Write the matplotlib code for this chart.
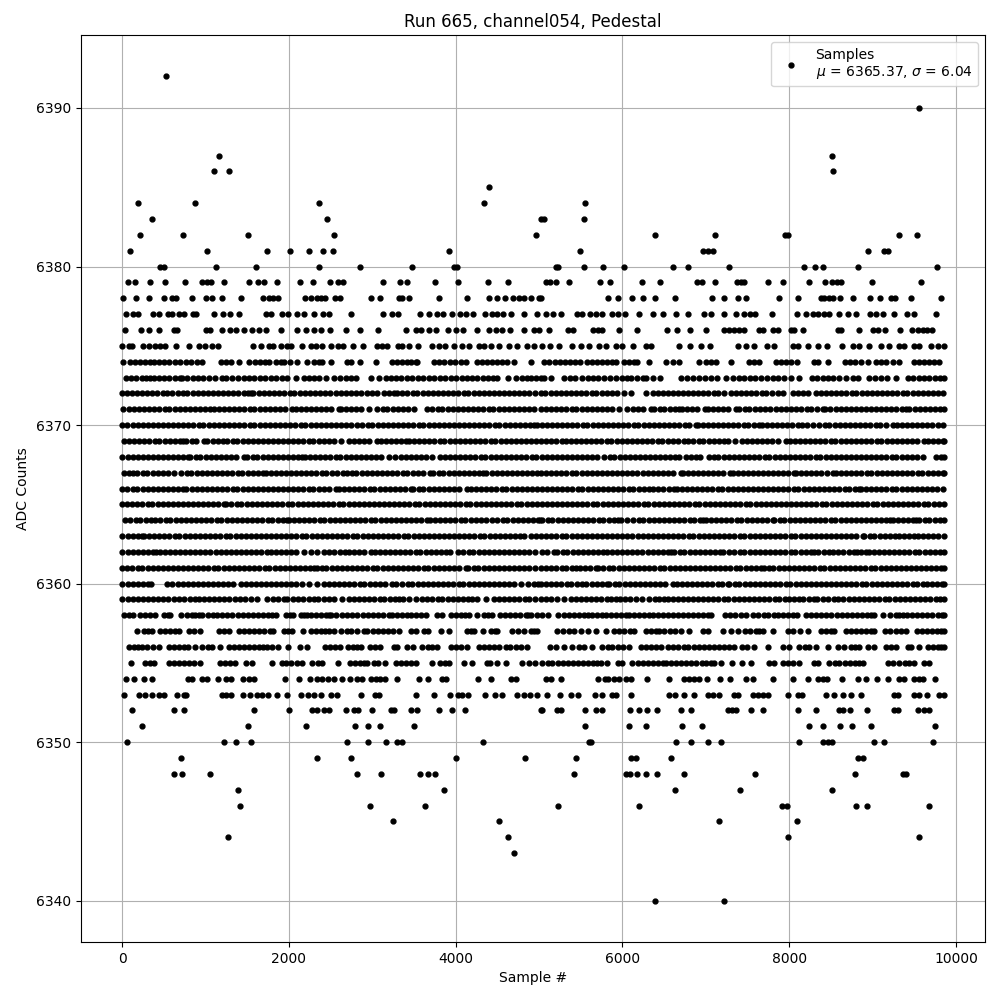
#!/usr/bin/env python3
"""Pedestal samples for one channel, sample number against ADC counts."""

import matplotlib

matplotlib.use("Agg")
import matplotlib.pyplot as plt

# sample numbers per ADC level
s6392 = [524]
s6390 = [9560]
s6387 = [1160, 8516]
s6386 = [1100, 1280, 8528]
s6385 = [4400]
s6384 = [188, 872, 2360, 4340, 5552]
s6383 = [356, 2456, 5020, 5060, 5540]
s6382 = [212, 728, 1508, 2540, 4964, 6392, 7112, 7952, 7988, 9320, 9536]
s6381 = [92, 1016, 1736, 2012, 2240, 2408, 2528, 3920, 5492, 6968, 7028, 7080, 8948, 9140, 9180]
s6380 = [452, 500, 1124, 1604, 2360, 2852, 3476, 3980, 4020, 5200, 5228, 5540, 5768, 6020, 6608,
         6788, 7280, 8180, 8312, 8400, 8828, 9776]
s6379 = [68, 160, 340, 512, 752, 956, 1020, 1068, 1220, 1520, 1628, 1700, 1856, 2132, 2288, 2492,
         2588, 2648, 3128, 3332, 3416, 3752, 4028, 4388, 4628, 5080, 5132, 5204, 5360, 5732, 5852,
         6236, 6452, 6896, 6956, 7112, 7376, 7420, 7460, 7748, 7928, 8240, 8432, 8516, 8576, 8620,
         8996, 9584]
s6378 = [8, 168, 320, 500, 600, 652, 840, 1008, 1076, 1196, 1424, 1688, 1760, 1808, 1868, 2192,
         2260, 2340, 2380, 2428, 2552, 2612, 2984, 3092, 3320, 3360, 3440, 3800, 4136, 4400, 4500,
         4592, 4688, 4760, 4820, 4904, 5000, 5020, 5828, 5948, 6116, 6244, 6392, 6632, 7076, 7220,
         7388, 7484, 7880, 8108, 8380, 8420, 8480, 8520, 8612, 8764, 8964, 9092, 9220, 9272, 9464,
         9824]
s6377 = [52, 128, 188, 368, 440, 548, 600, 680, 748, 848, 892, 1100, 1208, 1292, 1400, 1724, 1788,
         1920, 1988, 2092, 2180, 2300, 2412, 2480, 2744, 3128, 3240, 3312, 3572, 3680, 3772, 3848,
         3956, 4052, 4124, 4204, 4352, 4440, 4500, 4568, 4668, 4820, 4980, 5080, 5172, 5260, 5460,
         5520, 5612, 5680, 5760, 5880, 5948, 6032, 6200, 6360, 6488, 6644, 6788, 6980, 7060, 7220,
         7364, 7460, 7532, 7592, 7796, 8096, 8204, 8280, 8348, 8420, 8480, 8600, 8700, 8800, 8972,
         9044, 9128, 9260, 9416, 9500, 9764]
s6376 = [32, 228, 320, 440, 620, 660, 1008, 1060, 1196, 1292, 1360, 1460, 1560, 1640, 1720, 1904,
         2100, 2208, 2300, 2380, 2492, 2680, 2852, 3068, 3404, 3520, 3580, 3680, 3760, 3908, 4004,
         4088, 4260, 4400, 4480, 4552, 4652, 4820, 4940, 5000, 5120, 5348, 5404, 5648, 5708, 5760,
         5960, 6176, 6536, 6656, 6812, 7004, 7220, 7280, 7340, 7400, 7460, 7640, 7688, 7808, 7860,
         8020, 8060, 8164, 8580, 8620, 8836, 9008, 9068, 9152, 9332, 9468, 9540, 9600, 9652, 9708]
s6375 = [0, 80, 120, 252, 320, 400, 460, 520, 648, 804, 920, 1000, 1080, 1148, 1564, 1660, 1760,
         1812, 1904, 1980, 2028, 2160, 2260, 2320, 2400, 2500, 2588, 2648, 2768, 2888, 3056, 3120,
         3180, 3312, 3360, 3440, 3544, 3720, 3800, 3868, 3980, 4080, 4160, 4280, 4340, 4420, 4520,
         4644, 4740, 4860, 4940, 5040, 5132, 5240, 5400, 5500, 5600, 5720, 5800, 5920, 6000, 6132,
         6276, 6344, 6680, 6804, 6940, 7052, 7380, 7480, 7580, 7732, 7820, 8040, 8100, 8228, 8340,
         8452, 8628, 8760, 8840, 8960, 9100, 9200, 9320, 9380, 9500, 9560, 9700, 9780, 9854]
s6374 = [12, 100, 160, 220, 280, 340, 380, 440, 500, 560, 640, 700, 770, 830, 900, 960, 1180, 1240,
         1308, 1400, 1520, 1590, 1650, 1710, 1760, 1840, 1900, 1940, 2012, 2100, 2220, 2300, 2360,
         2400, 2500, 2692, 2748, 2852, 3044, 3240, 3300, 3360, 3420, 3460, 3520, 3540, 3740, 3800,
         3860, 3930, 3990, 4060, 4120, 4260, 4320, 4380, 4440, 4500, 4560, 4620, 4700, 4900, 5060,
         5120, 5190, 5250, 5310, 5370, 5430, 5492, 5580, 5640, 5700, 5760, 5820, 5880, 5920, 6020,
         6080, 6140, 6180, 6320, 6520, 6600, 6672, 6920, 7000, 7060, 7124, 7300, 7520, 7580, 7640,
         7840, 7900, 7960, 8020, 8088, 8300, 8348, 8468, 8668, 8730, 8790, 8860, 8948, 9040, 9100,
         9160, 9240, 9320, 9500, 9560, 9620, 9680, 9740, 9800]
s6373 = [52, 110, 170, 235, 290, 340, 380, 440, 500, 565, 630, 692, 720, 780, 850, 910, 975, 1040,
         1120, 1200, 1240, 1320, 1390, 1460, 1520, 1585, 1650, 1710, 1780, 1850, 1920, 1980, 2080,
         2180, 2240, 2300, 2360, 2440, 2540, 2610, 2680, 2740, 2800, 2980, 3080, 3160, 3225, 3290,
         3350, 3420, 3480, 3550, 3610, 3680, 3745, 3810, 3870, 3940, 4000, 4070, 4130, 4200, 4260,
         4330, 4390, 4450, 4500, 4628, 4720, 4790, 4860, 4900, 4960, 5020, 5060, 5140, 5300, 5370,
         5432, 5520, 5585, 5650, 5710, 5780, 5850, 5920, 5990, 6060, 6100, 6170, 6240, 6280, 6370,
         6452, 6700, 6770, 6840, 6920, 6990, 7060, 7132, 7240, 7320, 7400, 7460, 7530, 7590, 7660,
         7730, 7800, 7860, 7940, 8020, 8112, 8268, 8330, 8400, 8460, 8530, 8600, 8680, 8760, 8828,
         8960, 9030, 9100, 9170, 9280, 9420, 9480, 9550, 9610, 9680, 9750, 9810, 9854]
s6372 = [0, 55, 120, 175, 240, 300, 360, 420, 485, 540, 600, 665, 725, 780, 845, 905, 970, 1025,
         1090, 1150, 1210, 1275, 1330, 1395, 1460, 1510, 1540, 1572, 1640, 1700, 1765, 1820, 1885,
         1945, 2010, 2065, 2130, 2190, 2250, 2315, 2370, 2435, 2495, 2560, 2620, 2680, 2745, 2800,
         2870, 2940, 3000, 3060, 3140, 3195, 3255, 3300, 3360, 3420, 3485, 3540, 3605, 3665, 3725,
         3790, 3845, 3910, 3970, 4030, 4095, 4150, 4215, 4275, 4335, 4400, 4455, 4520, 4580, 4640,
         4705, 4760, 4825, 4885, 4945, 5020, 5075, 5140, 5200, 5260, 5325, 5380, 5445, 5505, 5565,
         5630, 5685, 5750, 5810, 5870, 5935, 6020, 6100, 6280, 6360, 6420, 6485, 6540, 6605, 6665,
         6725, 6790, 6845, 6910, 6970, 7030, 7095, 7150, 7212, 7300, 7365, 7420, 7485, 7545, 7605,
         7670, 7725, 7790, 7860, 7928, 8040, 8105, 8165, 8225, 8320, 8380, 8445, 8500, 8565, 8625,
         8685, 8750, 8805, 8870, 8930, 8990, 9055, 9110, 9175, 9235, 9295, 9360, 9415, 9480, 9540,
         9600, 9665, 9720, 9785, 9845]
s6371 = [12, 80, 140, 205, 260, 325, 385, 445, 510, 565, 630, 690, 750, 815, 870, 935, 1000, 1060,
         1100, 1160, 1225, 1280, 1345, 1405, 1465, 1530, 1585, 1650, 1710, 1770, 1835, 1890, 1955,
         2040, 2080, 2140, 2205, 2260, 2325, 2385, 2445, 2510, 2600, 2620, 2685, 2740, 2805, 2865,
         2960, 3060, 3125, 3180, 3245, 3305, 3365, 3430, 3500, 3660, 3720, 3785, 3840, 3905, 3965,
         4025, 4090, 4145, 4210, 4270, 4330, 4395, 4450, 4515, 4575, 4635, 4700, 4755, 4820, 4880,
         4940, 5020, 5085, 5140, 5205, 5265, 5325, 5390, 5445, 5510, 5570, 5630, 5695, 5750, 5815,
         5875, 5960, 6060, 6125, 6185, 6240, 6340, 6380, 6445, 6500, 6565, 6625, 6680, 6708, 6770,
         6835, 6895, 6988, 7020, 7085, 7140, 7205, 7265, 7360, 7400, 7465, 7520, 7585, 7645, 7705,
         7772, 7840, 7905, 7960, 8025, 8085, 8145, 8210, 8265, 8330, 8400, 8428, 8490, 8555, 8615,
         8675, 8740, 8795, 8860, 8920, 8980, 9045, 9100, 9165, 9225, 9285, 9350, 9400, 9440, 9505,
         9565, 9625, 9690, 9745, 9810, 9854]
s6370 = [0, 60, 125, 185, 245, 310, 365, 430, 490, 550, 615, 670, 735, 795, 855, 920, 975, 1040,
         1100, 1160, 1225, 1280, 1345, 1405, 1465, 1530, 1585, 1650, 1710, 1770, 1835, 1890, 1955,
         2015, 2075, 2140, 2195, 2260, 2320, 2380, 2445, 2500, 2565, 2625, 2685, 2750, 2820, 2880,
         2945, 3000, 3065, 3125, 3185, 3250, 3305, 3370, 3430, 3490, 3555, 3610, 3675, 3735, 3795,
         3860, 3915, 3980, 4040, 4100, 4165, 4220, 4285, 4345, 4405, 4470, 4525, 4590, 4650, 4710,
         4775, 4830, 4895, 4940, 4972, 5035, 5095, 5155, 5220, 5275, 5340, 5400, 5460, 5525, 5580,
         5645, 5705, 5765, 5830, 5885, 5950, 6010, 6070, 6135, 6190, 6255, 6315, 6375, 6440, 6495,
         6560, 6620, 6680, 6745, 6800, 6880, 6900, 6965, 7025, 7085, 7150, 7205, 7270, 7330, 7390,
         7455, 7510, 7575, 7640, 7668, 7730, 7795, 7850, 7915, 7975, 8035, 8100, 8155, 8212, 8280,
         8360, 8425, 8480, 8545, 8605, 8665, 8730, 8785, 8850, 8910, 8970, 9035, 9090, 9155, 9240,
         9288, 9348, 9410, 9475, 9530, 9595, 9655, 9715, 9780, 9845]
s6369 = [20, 85, 140, 205, 265, 325, 390, 445, 510, 570, 630, 695, 732, 772, 835, 890, 980, 1020,
         1085, 1150, 1212, 1260, 1325, 1380, 1445, 1505, 1565, 1630, 1685, 1750, 1810, 1870, 1935,
         1990, 2055, 2115, 2175, 2240, 2295, 2360, 2420, 2480, 2540, 2628, 2720, 2785, 2840, 2905,
         2965, 3060, 3100, 3165, 3220, 3285, 3345, 3400, 3440, 3505, 3560, 3625, 3685, 3745, 3810,
         3865, 3930, 3990, 4050, 4115, 4170, 4235, 4295, 4355, 4420, 4475, 4540, 4600, 4660, 4725,
         4780, 4845, 4905, 4965, 5020, 5085, 5145, 5205, 5270, 5325, 5388, 5440, 5505, 5560, 5625,
         5685, 5745, 5810, 5865, 5930, 5990, 6050, 6115, 6170, 6235, 6295, 6355, 6420, 6475, 6540,
         6600, 6660, 6740, 6788, 6850, 6915, 6970, 7035, 7095, 7155, 7220, 7260, 7348, 7428, 7490,
         7555, 7610, 7675, 7735, 7795, 7860, 7960, 8004, 8065, 8125, 8190, 8245, 8310, 8370, 8430,
         8495, 8550, 8615, 8675, 8740, 8800, 8865, 8925, 8985, 9050, 9105, 9170, 9230, 9290, 9355,
         9410, 9475, 9535, 9620, 9660, 9725, 9780, 9845, 9854]
s6368 = [0, 65, 125, 185, 250, 305, 370, 430, 490, 555, 610, 675, 735, 788, 820, 885, 940, 1005,
         1065, 1125, 1190, 1245, 1310, 1370, 1460, 1500, 1565, 1620, 1685, 1745, 1805, 1870, 1925,
         1990, 2050, 2110, 2160, 2190, 2255, 2310, 2375, 2435, 2495, 2560, 2615, 2680, 2740, 2800,
         2865, 2920, 2985, 3045, 3105, 3200, 3276, 3340, 3405, 3460, 3525, 3585, 3645, 3710, 3812,
         3872, 3932, 3995, 4050, 4115, 4175, 4235, 4300, 4355, 4420, 4480, 4540, 4605, 4660, 4725,
         4785, 4845, 4910, 4965, 5030, 5090, 5150, 5215, 5270, 5335, 5395, 5455, 5520, 5575, 5640,
         5692, 5780, 5845, 5900, 5965, 6025, 6085, 6150, 6205, 6270, 6330, 6390, 6455, 6510, 6575,
         6635, 6680, 6760, 6825, 6880, 6928, 7032, 7095, 7150, 7215, 7275, 7335, 7400, 7455, 7520,
         7580, 7640, 7705, 7760, 7825, 7885, 7945, 8010, 8065, 8130, 8190, 8250, 8315, 8370, 8435,
         8495, 8555, 8620, 8675, 8740, 8800, 8860, 8925, 8980, 9045, 9105, 9165, 9230, 9285, 9350,
         9410, 9470, 9535, 9600, 9760, 9825, 9854]
s6367 = [28, 85, 128, 180, 245, 300, 365, 425, 485, 550, 620, 712, 775, 830, 895, 955, 1015, 1080,
         1135, 1200, 1260, 1320, 1385, 1440, 1505, 1565, 1625, 1692, 1720, 1785, 1840, 1905, 1965,
         2025, 2090, 2145, 2210, 2270, 2330, 2395, 2450, 2515, 2575, 2652, 2692, 2755, 2810, 2875,
         2935, 2995, 3060, 3115, 3180, 3240, 3300, 3365, 3420, 3485, 3545, 3605, 3692, 3732, 3795,
         3850, 3915, 3975, 4035, 4100, 4155, 4220, 4280, 4332, 4368, 4430, 4495, 4550, 4615, 4675,
         4735, 4800, 4855, 4920, 4980, 5020, 5085, 5140, 5205, 5265, 5325, 5390, 5445, 5510, 5570,
         5630, 5695, 5750, 5815, 5875, 5935, 6000, 6055, 6120, 6180, 6240, 6305, 6360, 6425, 6485,
         6545, 6610, 6700, 6720, 6785, 6840, 6905, 6965, 7025, 7090, 7145, 7210, 7292, 7320, 7385,
         7440, 7505, 7565, 7625, 7690, 7745, 7810, 7870, 7930, 7990, 8052, 8080, 8145, 8200, 8265,
         8325, 8385, 8450, 8520, 8560, 8625, 8680, 8745, 8805, 8865, 8930, 8985, 9050, 9110, 9170,
         9235, 9290, 9355, 9415, 9475, 9540, 9595, 9660, 9720, 9780, 9845, 9854]
s6366 = [0, 60, 125, 180, 245, 305, 365, 430, 485, 550, 610, 670, 732, 772, 835, 895, 955, 1020,
         1075, 1140, 1200, 1260, 1325, 1380, 1445, 1505, 1565, 1630, 1685, 1750, 1810, 1870, 1935,
         1990, 2055, 2115, 2175, 2240, 2295, 2360, 2420, 2480, 2560, 2600, 2665, 2720, 2785, 2845,
         2905, 2970, 3025, 3090, 3150, 3210, 3275, 3330, 3395, 3460, 3492, 3555, 3610, 3675, 3735,
         3795, 3860, 3915, 3980, 4040, 4140, 4180, 4245, 4300, 4365, 4425, 4485, 4550, 4605, 4670,
         4730, 4790, 4855, 4910, 4975, 5035, 5095, 5160, 5215, 5280, 5340, 5400, 5465, 5520, 5585,
         5645, 5705, 5770, 5825, 5890, 5950, 6010, 6075, 6130, 6195, 6255, 6320, 6360, 6425, 6480,
         6560, 6620, 6648, 6710, 6770, 6835, 6890, 6955, 7015, 7075, 7140, 7195, 7260, 7320, 7380,
         7445, 7500, 7565, 7625, 7685, 7750, 7805, 7870, 7930, 7990, 8055, 8110, 8175, 8235, 8295,
         8360, 8415, 8480, 8540, 8600, 8665, 8720, 8785, 8832, 8860, 8925, 8980, 9045, 9105, 9165,
         9230, 9285, 9350, 9410, 9470, 9535, 9590, 9655, 9715, 9775, 9840]
s6365 = [0, 55, 120, 180, 240, 305, 360, 425, 485, 545, 610, 665, 730, 790, 850, 915, 970, 1035,
         1095, 1155, 1220, 1250, 1310, 1375, 1430, 1495, 1555, 1615, 1680, 1735, 1800, 1860, 1920,
         1985, 2040, 2105, 2165, 2225, 2290, 2345, 2410, 2470, 2530, 2595, 2650, 2715, 2775, 2835,
         2900, 2955, 3020, 3080, 3140, 3205, 3260, 3325, 3385, 3445, 3510, 3565, 3630, 3690, 3750,
         3815, 3870, 3935, 3995, 4055, 4120, 4175, 4240, 4300, 4360, 4425, 4480, 4545, 4605, 4665,
         4730, 4785, 4850, 4910, 4970, 5035, 5090, 5155, 5215, 5275, 5340, 5395, 5460, 5520, 5580,
         5645, 5700, 5765, 5825, 5885, 5950, 6005, 6070, 6130, 6190, 6255, 6310, 6375, 6435, 6495,
         6560, 6615, 6680, 6740, 6800, 6865, 6920, 6985, 7045, 7105, 7170, 7225, 7290, 7350, 7410,
         7475, 7530, 7595, 7655, 7715, 7780, 7835, 7900, 7960, 8020, 8085, 8140, 8205, 8265, 8325,
         8390, 8445, 8510, 8570, 8630, 8695, 8750, 8815, 8875, 8935, 9000, 9055, 9120, 9180, 9240,
         9305, 9360, 9425, 9485, 9545, 9610, 9665, 9730, 9790, 9850]
s6364 = [40, 100, 165, 220, 285, 345, 400, 460, 525, 580, 645, 705, 765, 830, 885, 950, 1010, 1070,
         1135, 1190, 1255, 1315, 1375, 1440, 1495, 1560, 1620, 1680, 1745, 1800, 1865, 1925, 1972,
         2000, 2065, 2120, 2185, 2245, 2305, 2370, 2425, 2490, 2550, 2610, 2675, 2730, 2795, 2855,
         2915, 2980, 3035, 3100, 3160, 3220, 3285, 3340, 3405, 3465, 3525, 3590, 3660, 3692, 3755,
         3810, 3875, 3935, 3995, 4060, 4115, 4180, 4240, 4300, 4365, 4440, 4500, 4565, 4620, 4685,
         4745, 4805, 4870, 4925, 4990, 5012, 5040, 5105, 5160, 5225, 5285, 5345, 5410, 5465, 5530,
         5590, 5650, 5715, 5770, 5835, 5895, 5948, 5980, 6060, 6132, 6195, 6250, 6315, 6375, 6435,
         6500, 6555, 6620, 6680, 6740, 6805, 6860, 6925, 6960, 7000, 7065, 7120, 7185, 7245, 7305,
         7370, 7425, 7490, 7550, 7610, 7675, 7730, 7800, 7820, 7885, 7940, 8005, 8065, 8125, 8190,
         8245, 8310, 8370, 8430, 8495, 8550, 8615, 8675, 8735, 8800, 8855, 8920, 8980, 9040, 9105,
         9160, 9212, 9240, 9305, 9360, 9425, 9485, 9520, 9560, 9625, 9680, 9745, 9805, 9850]
s6363 = [0, 65, 125, 185, 240, 260, 325, 380, 445, 505, 565, 630, 685, 750, 810, 870, 935, 990,
         1055, 1115, 1175, 1240, 1295, 1360, 1420, 1480, 1545, 1600, 1665, 1725, 1785, 1850, 1905,
         1970, 2030, 2090, 2155, 2210, 2275, 2335, 2395, 2460, 2515, 2580, 2640, 2700, 2765, 2820,
         2885, 2945, 3005, 3070, 3125, 3190, 3250, 3310, 3375, 3430, 3495, 3555, 3615, 3680, 3735,
         3800, 3860, 3920, 3985, 4040, 4105, 4165, 4225, 4290, 4345, 4410, 4470, 4530, 4595, 4650,
         4715, 4775, 4820, 4900, 4965, 5020, 5085, 5145, 5205, 5270, 5325, 5390, 5450, 5510, 5575,
         5630, 5695, 5755, 5815, 5880, 5935, 6000, 6060, 6120, 6185, 6240, 6305, 6365, 6425, 6490,
         6545, 6610, 6670, 6730, 6795, 6850, 6915, 6975, 7035, 7100, 7155, 7220, 7280, 7340, 7405,
         7460, 7525, 7585, 7645, 7710, 7765, 7830, 7890, 7950, 8015, 8070, 8135, 8195, 8255, 8320,
         8375, 8440, 8500, 8560, 8625, 8680, 8745, 8805, 8880, 8900, 8965, 9020, 9085, 9145, 9205,
         9270, 9320, 9372, 9440, 9500, 9540, 9605, 9660, 9725, 9785, 9854]
s6362 = [0, 65, 125, 185, 250, 305, 370, 412, 452, 515, 570, 635, 695, 755, 820, 875, 940, 1000,
         1060, 1125, 1180, 1245, 1305, 1365, 1430, 1485, 1550, 1610, 1670, 1735, 1780, 1840, 1908,
         1970, 2025, 2090, 2180, 2260, 2340, 2420, 2485, 2545, 2610, 2668, 2720, 2785, 2845, 2905,
         2988, 3028, 3090, 3150, 3215, 3270, 3335, 3395, 3455, 3520, 3575, 3640, 3700, 3760, 3825,
         3880, 3932, 4028, 4090, 4155, 4210, 4275, 4335, 4395, 4460, 4515, 4580, 4640, 4700, 4765,
         4820, 4885, 4945, 5040, 5100, 5180, 5220, 5285, 5340, 5405, 5465, 5525, 5590, 5645, 5710,
         5770, 5820, 5880, 5932, 5995, 6055, 6115, 6180, 6235, 6300, 6360, 6420, 6485, 6540, 6580,
         6620, 6685, 6740, 6805, 6865, 6925, 6990, 7045, 7110, 7170, 7200, 7280, 7340, 7405, 7460,
         7525, 7585, 7645, 7710, 7765, 7830, 7890, 7950, 8015, 8070, 8135, 8195, 8255, 8292, 8348,
         8415, 8480, 8528, 8590, 8650, 8715, 8770, 8812, 8860, 8925, 8960, 9012, 9075, 9135, 9200,
         9255, 9320, 9380, 9440, 9505, 9560, 9625, 9685, 9745, 9810, 9854]
s6361 = [0, 60, 120, 185, 240, 305, 365, 425, 490, 545, 610, 670, 730, 795, 850, 915, 975, 1035,
         1100, 1155, 1220, 1280, 1340, 1405, 1460, 1525, 1585, 1645, 1710, 1765, 1830, 1890, 1950,
         2015, 2070, 2135, 2195, 2255, 2300, 2332, 2395, 2450, 2515, 2575, 2635, 2700, 2755, 2820,
         2880, 2940, 3005, 3060, 3125, 3185, 3245, 3310, 3365, 3430, 3490, 3550, 3615, 3670, 3735,
         3795, 3855, 3920, 3975, 4040, 4120, 4152, 4215, 4270, 4335, 4395, 4455, 4520, 4575, 4640,
         4700, 4760, 4825, 4880, 4945, 5020, 5085, 5145, 5205, 5270, 5325, 5390, 5440, 5488, 5550,
         5615, 5680, 5708, 5770, 5835, 5890, 5955, 6015, 6075, 6140, 6195, 6260, 6320, 6380, 6445,
         6500, 6565, 6625, 6685, 6750, 6805, 6870, 6930, 6990, 7055, 7110, 7175, 7235, 7295, 7360,
         7415, 7480, 7540, 7600, 7660, 7692, 7755, 7810, 7875, 7935, 7995, 8060, 8115, 8180, 8240,
         8300, 8365, 8420, 8485, 8545, 8605, 8670, 8725, 8790, 8850, 8910, 8975, 9030, 9095, 9155,
         9215, 9280, 9335, 9400, 9460, 9520, 9585, 9640, 9705, 9765, 9825, 9854]
s6360 = [0, 65, 125, 185, 250, 305, 348, 540, 600, 665, 725, 785, 850, 905, 970, 1030, 1090, 1155,
         1210, 1275, 1328, 1420, 1480, 1545, 1600, 1665, 1725, 1785, 1850, 1905, 1970, 2030, 2090,
         2155, 2240, 2332, 2420, 2480, 2545, 2600, 2665, 2725, 2785, 2850, 2905, 2970, 3030, 3090,
         3155, 3240, 3280, 3360, 3425, 3480, 3545, 3605, 3665, 3730, 3785, 3850, 3910, 3970, 4035,
         4090, 4155, 4215, 4275, 4340, 4395, 4460, 4520, 4580, 4645, 4700, 4780, 4872, 4935, 4990,
         5020, 5080, 5145, 5205, 5265, 5330, 5385, 5450, 5510, 5560, 5636, 5700, 5760, 5812, 5840,
         5905, 5960, 6025, 6085, 6145, 6210, 6265, 6330, 6390, 6450, 6515, 6600, 6648, 6710, 6770,
         6835, 6890, 6955, 7015, 7075, 7140, 7195, 7260, 7280, 7345, 7400, 7465, 7525, 7585, 7650,
         7705, 7770, 7830, 7890, 7955, 8010, 8075, 8135, 8195, 8260, 8315, 8380, 8440, 8500, 8565,
         8620, 8685, 8745, 8805, 8870, 8925, 8990, 9050, 9110, 9175, 9230, 9295, 9355, 9415, 9480,
         9535, 9600, 9648, 9710, 9770, 9830, 9854]
s6359 = [0, 65, 125, 185, 250, 305, 370, 428, 492, 555, 620, 680, 748, 810, 870, 920, 980, 1045,
         1100, 1165, 1225, 1285, 1352, 1412, 1475, 1540, 1620, 1740, 1812, 1875, 1940, 1980, 2052,
         2115, 2175, 2240, 2300, 2352, 2415, 2475, 2540, 2640, 2720, 2785, 2840, 2905, 2965, 3025,
         3090, 3145, 3210, 3270, 3320, 3372, 3440, 3520, 3600, 3660, 3720, 3785, 3840, 3905, 3965,
         4025, 4090, 4145, 4200, 4260, 4368, 4460, 4525, 4580, 4645, 4705, 4765, 4830, 4885, 4950,
         5020, 5085, 5145, 5210, 5300, 5380, 5440, 5505, 5560, 5625, 5685, 5745, 5810, 5865, 5920,
         5972, 6035, 6095, 6160, 6228, 6320, 6385, 6440, 6500, 6540, 6605, 6660, 6725, 6785, 6845,
         6910, 6965, 7030, 7090, 7150, 7215, 7270, 7335, 7395, 7455, 7520, 7575, 7640, 7700, 7760,
         7825, 7880, 7945, 8000, 8052, 8115, 8170, 8235, 8295, 8332, 8400, 8465, 8532, 8588, 8650,
         8715, 8770, 8835, 8895, 8955, 9012, 9080, 9145, 9200, 9265, 9325, 9385, 9450, 9505, 9570,
         9630, 9690, 9755, 9810, 9854]
s6358 = [28, 85, 128, 212, 270, 335, 400, 508, 550, 580, 712, 775, 835, 880, 920, 960, 1025, 1092,
         1140, 1200, 1260, 1320, 1385, 1445, 1505, 1570, 1630, 1690, 1750, 1800, 1840, 1968, 2010,
         2048, 2140, 2180, 2212, 2268, 2330, 2390, 2440, 2480, 2508, 2570, 2640, 2700, 2760, 2820,
         2885, 2945, 3010, 3070, 3130, 3200, 3240, 3300, 3360, 3412, 3460, 3525, 3588, 3640, 3780,
         3840, 3940, 4000, 4060, 4110, 4160, 4260, 4340, 4390, 4440, 4532, 4590, 4650, 4710, 4770,
         4840, 4872, 4900, 4970, 5040, 5112, 5228, 5300, 5360, 5420, 5480, 5540, 5590, 5640, 5700,
         5750, 5800, 5860, 5920, 5980, 6040, 6080, 6140, 6200, 6260, 6320, 6360, 6420, 6480, 6545,
         6600, 6660, 6720, 6785, 6845, 6905, 6965, 7020, 7060, 7228, 7290, 7355, 7420, 7480, 7568,
         7630, 7695, 7750, 7815, 7870, 7920, 7988, 8040, 8088, 8200, 8260, 8320, 8385, 8445, 8505,
         8570, 8630, 8690, 8750, 8810, 8875, 8930, 8980, 9020, 9128, 9212, 9275, 9320, 9360, 9412,
         9475, 9530, 9595, 9655, 9715, 9780, 9835, 9854]
s6357 = [180, 260, 310, 360, 460, 520, 580, 630, 680, 800, 865, 932, 1160, 1220, 1280, 1400, 1465,
         1525, 1585, 1645, 1705, 1770, 1812, 1940, 1990, 2040, 2168, 2260, 2325, 2380, 2430, 2480,
         2540, 2620, 2700, 2748, 2820, 2900, 2940, 3005, 3065, 3125, 3185, 3250, 3320, 3460, 3530,
         3620, 3668, 3828, 3920, 4132, 4180, 4220, 4328, 4428, 4470, 4500, 4680, 4750, 4820, 4900,
         4940, 4972, 5220, 5292, 5355, 5420, 5500, 5588, 5680, 5804, 5900, 5960, 6020, 6085, 6140,
         6280, 6345, 6400, 6440, 6500, 6565, 6630, 6700, 6792, 6960, 7020, 7200, 7300, 7388, 7468,
         7530, 7595, 7640, 7680, 7800, 7980, 8048, 8132, 8228, 8380, 8445, 8500, 8540, 8680, 8745,
         8800, 8865, 8925, 8975, 9020, 9148, 9210, 9275, 9335, 9400, 9528, 9590, 9650, 9715, 9770,
         9820, 9854]
s6356 = [80, 145, 190, 240, 300, 370, 440, 560, 625, 680, 745, 788, 872, 960, 1025, 1080, 1172, 1280,
         1345, 1400, 1460, 1525, 1580, 1645, 1690, 1740, 1800, 1868, 1988, 2128, 2220, 2428, 2490,
         2550, 2612, 2708, 2772, 2820, 2868, 2972, 3035, 3092, 3260, 3300, 3420, 3492, 3600, 3665,
         3720, 3780, 3940, 4005, 4068, 4140, 4280, 4345, 4400, 4465, 4525, 4600, 4652, 4720, 4785,
         4860, 5132, 5204, 5300, 5400, 5480, 5540, 5636, 5760, 5825, 5880, 5945, 6005, 6080, 6220,
         6285, 6340, 6400, 6460, 6548, 6610, 6670, 6735, 6790, 6855, 6915, 6975, 7040, 7095, 7160,
         7220, 7280, 7340, 7428, 7492, 7580, 7740, 7920, 8000, 8120, 8185, 8240, 8320, 8460, 8588,
         8660, 8740, 8790, 8840, 8940, 9020, 9160, 9225, 9280, 9420, 9460, 9560, 9660, 9725, 9780,
         9820, 9854]
s6355 = [108, 272, 330, 380, 560, 625, 680, 745, 800, 860, 932, 1172, 1235, 1290, 1352, 1480, 1560,
         1792, 1920, 1970, 2020, 2100, 2160, 2280, 2345, 2400, 2584, 2732, 2795, 2850, 2900, 2940,
         3020, 3068, 3148, 3280, 3345, 3400, 3465, 3520, 3720, 3812, 3870, 3920, 4100, 4200, 4372,
         4412, 4496, 4600, 4800, 4880, 4952, 5040, 5105, 5160, 5225, 5285, 5345, 5410, 5465, 5530,
         5590, 5650, 5700, 5740, 5820, 5948, 6000, 6120, 6185, 6240, 6305, 6365, 6425, 6480, 6520,
         6580, 6645, 6700, 6765, 6825, 6885, 6950, 7005, 7060, 7100, 7180, 7316, 7436, 7544, 7760,
         7820, 7920, 7985, 8040, 8120, 8300, 8348, 8480, 8545, 8600, 8665, 8725, 8785, 8840, 8880,
         9180, 9240, 9320, 9385, 9440, 9500, 9620, 9680]
s6354 = [52, 140, 260, 356, 788, 840, 960, 1020, 1152, 1240, 1300, 1452, 1520, 1580, 1952, 2124,
         2248, 2340, 2400, 2472, 2540, 2640, 2732, 2820, 2880, 2980, 3040, 3092, 3152, 3292, 3560,
         3668, 3840, 3880, 4268, 4428, 4660, 4720, 5088, 5148, 5268, 5712, 5788, 5828, 5900, 5960,
         6040, 6100, 6288, 6556, 6740, 6800, 6860, 6920, 7012, 7172, 7292, 7480, 7560, 7808, 8040,
         8228, 8348, 8400, 8452, 8636, 8820, 8920, 9048, 9180, 9312, 9372, 9500, 9552, 9608, 9752]
s6353 = [20, 200, 280, 360, 440, 500, 656, 740, 772, 1200, 1240, 1308, 1452, 1532, 1620, 1680, 1752,
         1860, 1980, 2140, 2230, 2300, 2380, 2500, 2580, 2868, 3028, 3080, 3520, 3740, 3932, 4028,
         4080, 4148, 4352, 4472, 4552, 4740, 4820, 4892, 4980, 5100, 5252, 5384, 5468, 5672, 5760,
         5880, 5928, 6104, 6560, 6628, 6740, 6860, 7020, 7080, 7160, 7340, 7388, 7560, 7620, 7680,
         7740, 7988, 8100, 8148, 8440, 8540, 8648, 8740, 8860, 9260, 9308, 9500, 9560, 9648, 9800,
         9854]
s6352 = [120, 624, 740, 1580, 2000, 2280, 2340, 2420, 2480, 2684, 2780, 2828, 2996, 3228, 3260,
         3468, 3540, 3800, 3956, 4112, 5020, 5040, 5212, 5268, 5548, 5688, 5756, 6092, 6192, 6296,
         6416, 6704, 6824, 7260, 7312, 7364, 7544, 7680, 8108, 8324, 8600, 8648, 8732, 8936, 9260,
         9300, 9540, 9620, 9680]
s6351 = [236, 1508, 2204, 2792, 2948, 3092, 3500, 5548, 6080, 6284, 6716, 6956, 8240, 8408, 8612,
         8756, 8984, 9752]
s6350 = [60, 1220, 1364, 1544, 2696, 2948, 3164, 3300, 3356, 4328, 5600, 5620, 6644, 6824, 7028,
         7184, 8120, 8408, 8468, 8508, 9020, 9140, 9728]
s6349 = [704, 2336, 2744, 4004, 4832, 5444, 6104, 6160, 6584, 8828, 8880]
s6348 = [624, 720, 1052, 2816, 3104, 3572, 3668, 3752, 5420, 6044, 6092, 6176, 6284, 6416, 6740,
         7592, 8792, 9360, 9400]
s6347 = [1388, 3860, 6632, 7412, 8516]
s6346 = [1412, 2972, 3632, 5228, 6200, 7916, 7968, 8804, 8936, 9680]
s6345 = [3248, 4520, 7160, 8096]
s6344 = [1268, 4628, 7988, 9560]
s6343 = [4700]
s6340 = [6392, 7220]

levels = {
    6392: s6392, 6390: s6390, 6387: s6387, 6386: s6386, 6385: s6385, 6384: s6384, 6383: s6383,
    6382: s6382, 6381: s6381, 6380: s6380, 6379: s6379, 6378: s6378, 6377: s6377, 6376: s6376,
    6375: s6375, 6374: s6374, 6373: s6373, 6372: s6372, 6371: s6371, 6370: s6370, 6369: s6369,
    6368: s6368, 6367: s6367, 6366: s6366, 6365: s6365, 6364: s6364, 6363: s6363, 6362: s6362,
    6361: s6361, 6360: s6360, 6359: s6359, 6358: s6358, 6357: s6357, 6356: s6356, 6355: s6355,
    6354: s6354, 6353: s6353, 6352: s6352, 6351: s6351, 6350: s6350, 6349: s6349, 6348: s6348,
    6347: s6347, 6346: s6346, 6345: s6345, 6344: s6344, 6343: s6343, 6340: s6340,
}

samples = []
counts = []
for adc, xs in levels.items():
    samples.extend(xs)
    counts.extend([adc] * len(xs))

fig, ax = plt.subplots(figsize=(10, 10))
ax.plot(samples, counts, "k.", markersize=7, label="Samples\n$\\mu$ = 6365.37, $\\sigma$ = 6.04")
ax.set_title("Run 665, channel054, Pedestal")
ax.set_xlabel("Sample #")
ax.set_ylabel("ADC Counts")
ax.grid(True)
ax.legend(loc="upper right")
fig.subplots_adjust(left=0.081, right=0.985, top=0.965, bottom=0.058)
fig.savefig("out.png", dpi=100)
